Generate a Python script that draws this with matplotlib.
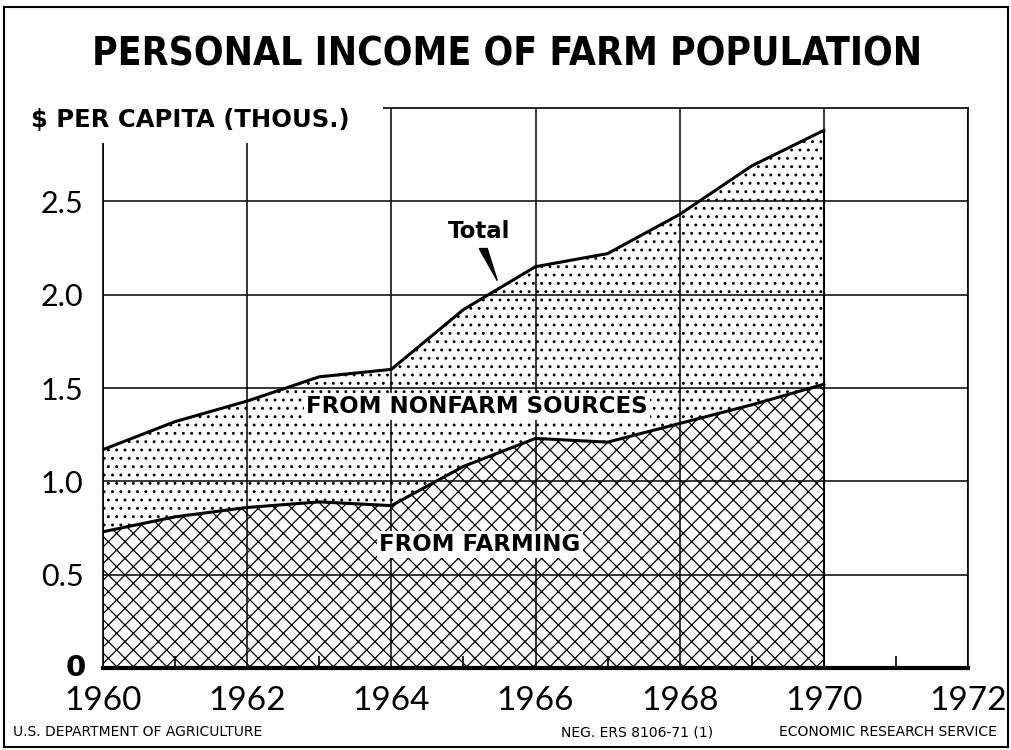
import numpy as np
import matplotlib
matplotlib.use("Agg")
import matplotlib.pyplot as plt
import matplotlib.patches as mpatches

plt.rcParams['font.family'] = ['Lato', 'DejaVu Sans']
plt.rcParams['hatch.linewidth'] = 0.9

years = [1960, 1961, 1962, 1963, 1964, 1965, 1966, 1967, 1968, 1969, 1970]
total = [1.17, 1.32, 1.43, 1.56, 1.60, 1.92, 2.15, 2.22, 2.43, 2.69, 2.88]
farming = [0.73, 0.81, 0.86, 0.89, 0.87, 1.08, 1.23, 1.21, 1.31, 1.41, 1.52]
xticks = [1960, 1962, 1964, 1966, 1968, 1970, 1972]
yticks = [0.5, 1.0, 1.5, 2.0, 2.5]
ytick_labels = ['0.5', '1.0', '1.5', '2.0', '2.5']

fig = plt.figure(figsize=(10.12, 7.5), dpi=100)
ax = fig.add_axes([103 / 1012, 0.1093, 865 / 1012, 0.7467])

# nonfarm band (dots) and farming band (hatch)
ax.fill_between(years, farming, total, facecolor='white', edgecolor='black',
                hatch='..', linewidth=0, zorder=2)
ax.fill_between(years, 0, farming, facecolor='white', edgecolor='black',
                hatch='xx', linewidth=0, zorder=2)
ax.plot(years, total, color='black', lw=2.2, zorder=4)
ax.plot(years, farming, color='black', lw=2.2, zorder=4)
ax.plot([1970, 1970], [0, total[-1]], color='black', lw=1.5, zorder=4)

ax.set_xticks(xticks)
ax.set_xticks(range(1961, 1972, 2), minor=True)
ax.set_yticks([0] + yticks)
ax.set_yticklabels([''] + ytick_labels)
ax.set_xlim(1960, 1972)
ax.set_ylim(0, 3.0)
ax.set_axisbelow(False)
ax.grid(True, color='black', lw=1.1)

ax.tick_params(axis='x', labelsize=24, length=0, pad=13)
ax.tick_params(axis='y', labelsize=22, length=0, pad=14)
ax.tick_params(axis='x', which='minor', direction='in', length=9, width=1.2)
ax.annotate('0', xy=(1960, 0), xytext=(-12, 0), textcoords='offset points',
            ha='right', va='center', fontsize=21, fontweight='bold',
            family=['DejaVu Sans'])

for s in ['left', 'right', 'top']:
    ax.spines[s].set_linewidth(1.2)
ax.spines['bottom'].set_linewidth(3)

# labels inside chart
lab_font = ['DejaVu Sans']
ax.text(1965.19, 1.40, 'FROM NONFARM SOURCES', fontsize=16.5, fontweight='bold',
        family=lab_font, ha='center', va='center', zorder=6,
        bbox=dict(facecolor='white', edgecolor='none', pad=1.5))
ax.text(1965.23, 0.66, 'FROM FARMING', fontsize=16.5, fontweight='bold',
        family=lab_font, ha='center', va='center', zorder=6,
        bbox=dict(facecolor='white', edgecolor='none', pad=1.5))
ax.text(1965.22, 2.34, 'Total', fontsize=16.5, fontweight='bold',
        family=lab_font, ha='center', va='center', zorder=6)
ax.add_patch(mpatches.Polygon([[1965.22, 2.247], [1965.33, 2.247], [1965.47, 2.075]],
                              closed=True, color='black', zorder=6))

fig.text(0.501, 0.927, 'PERSONAL INCOME OF FARM POPULATION', ha='center', va='center',
         fontsize=28, fontweight='bold', family=['DejaVu Sans'], fontstretch='condensed')

# y-axis caption sits over the top-left corner of the frame
fig.patches.append(mpatches.Rectangle((0.007, 1 - 143 / 750), 0.371, 0.06,
                                      transform=fig.transFigure, facecolor='white',
                                      edgecolor='none', zorder=1))
fig.text(0.031, 0.84, '$ PER CAPITA (THOUS.)', ha='left', va='center',
         fontsize=17.5, fontweight='bold', family=lab_font, zorder=3)

fig.text(0.013, 0.024, 'U.S. DEPARTMENT OF AGRICULTURE', fontsize=10, ha='left',
         va='center', family=lab_font)
fig.text(0.554, 0.024, 'NEG. ERS 8106-71 (1)', fontsize=10, ha='left',
         va='center', family=lab_font)
fig.text(0.985, 0.024, 'ECONOMIC RESEARCH SERVICE', fontsize=10, ha='right',
         va='center', family=lab_font)

# outer frame
fig.patches.append(mpatches.Rectangle((0.004, 0.004), 0.992, 0.987, transform=fig.transFigure,
                                      fill=False, edgecolor='black', lw=1.5, zorder=1))

fig.savefig('out.png', dpi=100)
